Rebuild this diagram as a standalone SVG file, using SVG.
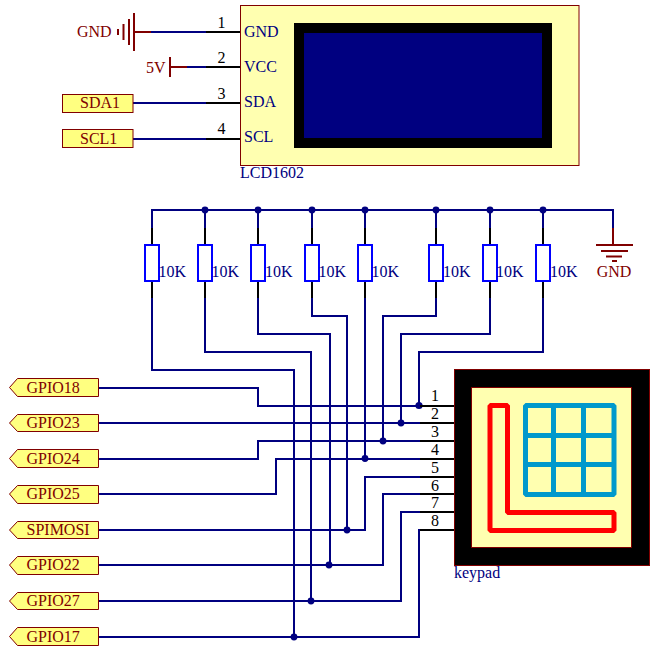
<svg xmlns="http://www.w3.org/2000/svg" width="658" height="652" viewBox="0 0 658 652">
<style>
text{font-family:"Liberation Serif","Times New Roman",serif;font-size:16px}
.w{fill:none;stroke:#000080;stroke-width:2}
.p{fill:none;stroke:#000;stroke-width:2}
.r{fill:none;stroke:#800000;stroke-width:2}
.res{fill:#fff;stroke:#0000ff;stroke-width:2}
.lb{fill:#ffff80;stroke:#800000;stroke-width:1}
.t{fill:#800000}
.n{fill:#000080}
.k{fill:#000}
.c{text-anchor:middle}
.j{fill:#000080}
</style>
<rect width="658" height="652" fill="#fff"/>
<g id="connectors">
<path class="w" d="M151 32H206M187 67H206M133 103H206M133 139H206"/>
<path class="w" d="M152 228V210H613V228M205 210V228M258 210V228M312 210V228M365 210V228M436 210V228M490 210V228M543 210V228"/>
<path class="w" d="M99 388H258V406H420M99 423H420M99 459H258V441H420M99 494H276V459H420M99 530H365V477H420M99 565H383V494H420M99 601H401V512H420M99 637H419V530H420"/>
<path class="w" d="M152 298V370H294V637M205 298V352H311V601M258 298V334H330V565M312 298V316H347V530M365 298V459M436 298V316H383V441M490 298V334H401V423M543 298V352H419V406"/>
<g class="j"><circle cx="205" cy="210" r="3.400"/><circle cx="258" cy="210" r="3.400"/><circle cx="312" cy="210" r="3.400"/><circle cx="365" cy="210" r="3.400"/><circle cx="436" cy="210" r="3.400"/><circle cx="490" cy="210" r="3.400"/><circle cx="543" cy="210" r="3.400"/><circle cx="419" cy="405.500" r="3.600"/><circle cx="401" cy="423" r="3.400"/><circle cx="383" cy="441" r="3.400"/><circle cx="365" cy="458.500" r="3.400"/><circle cx="347" cy="530" r="3.400"/><circle cx="329" cy="565" r="3.400"/><circle cx="311" cy="601" r="3.400"/><circle cx="294" cy="637" r="3.400"/></g>
</g>
<g id="lcd1602">
<rect x="240.500" y="5.500" width="338.500" height="160" fill="#ffffb0" stroke="#800000"/>
<rect x="294" y="23" width="258" height="125" fill="#000"/>
<rect x="304" y="33" width="238" height="105" fill="#000080"/>
<path class="p" d="M206 32H240M206 67H240M206 103H240M206 139H240"/>
<g class="k"><text class="c" x="221.500" y="28">1</text><text class="c" x="221.500" y="63">2</text><text class="c" x="221.500" y="99">3</text><text class="c" x="221.500" y="134">4</text></g>
<g class="n"><text x="244" y="37">GND</text><text x="244" y="72">VCC</text><text x="244" y="107">SDA</text><text x="244" y="142">SCL</text><text x="240" y="178">LCD1602</text></g>
</g>
<g id="gnd-top">
<path class="r" d="M135 32H151M134 13V51M129 19V45M123.500 24V40M118 29V35"/>
<text class="t" x="77" y="37">GND</text>
</g>
<g id="vcc-5v">
<path class="r" d="M170 57V77M170 67H187"/>
<text class="t" x="146" y="73">5V</text>
</g>
<g id="sda1"><rect class="lb" x="62.500" y="94.500" width="70.500" height="18"/><text class="t" x="80" y="108">SDA1</text></g>
<g id="scl1"><rect class="lb" x="62.500" y="129.500" width="70.500" height="18"/><text class="t" x="80" y="144">SCL1</text></g>
<g id="r1"><path class="p" d="M152 228V245M152 281V298"/><rect class="res" x="145" y="245" width="14" height="36"/><text class="n" x="158.500" y="277">10K</text></g>
<g id="r2"><path class="p" d="M205 228V245M205 281V298"/><rect class="res" x="198" y="245" width="14" height="36"/><text class="n" x="211.500" y="277">10K</text></g>
<g id="r3"><path class="p" d="M258 228V245M258 281V298"/><rect class="res" x="251" y="245" width="14" height="36"/><text class="n" x="265" y="277">10K</text></g>
<g id="r4"><path class="p" d="M312 228V245M312 281V298"/><rect class="res" x="305" y="245" width="14" height="36"/><text class="n" x="318.500" y="277">10K</text></g>
<g id="r5"><path class="p" d="M365 228V245M365 281V298"/><rect class="res" x="358" y="245" width="14" height="36"/><text class="n" x="371.500" y="277">10K</text></g>
<g id="r6"><path class="p" d="M436 228V245M436 281V298"/><rect class="res" x="429" y="245" width="14" height="36"/><text class="n" x="443" y="277">10K</text></g>
<g id="r7"><path class="p" d="M490 228V245M490 281V298"/><rect class="res" x="483" y="245" width="14" height="36"/><text class="n" x="496" y="277">10K</text></g>
<g id="r8"><path class="p" d="M543 228V245M543 281V298"/><rect class="res" x="536" y="245" width="14" height="36"/><text class="n" x="550" y="277">10K</text></g>
<g id="gnd-right">
<path class="r" d="M613 228V245M596 245H633M601 251H628M606 256.500H622M612 261H617"/>
<text class="t c" x="614" y="277">GND</text>
</g>
<g id="gpio18"><path class="lb" d="M9.500 387.500L17.500 378.500H98.500V396.500H17.500Z"/><text class="t" x="26.500" y="393">GPIO18</text></g>
<g id="gpio23"><path class="lb" d="M9.500 423L17.500 414.500H98.500V431.500H17.500Z"/><text class="t" x="26.500" y="428">GPIO23</text></g>
<g id="gpio24"><path class="lb" d="M9.500 458.500L17.500 449.500H98.500V467.500H17.500Z"/><text class="t" x="26.500" y="464">GPIO24</text></g>
<g id="gpio25"><path class="lb" d="M9.500 494L17.500 485.500H98.500V503.500H17.500Z"/><text class="t" x="26.500" y="499">GPIO25</text></g>
<g id="spimosi"><path class="lb" d="M9.500 530L17.500 521.500H98.500V538.500H17.500Z"/><text class="t" x="26.500" y="535">SPIMOSI</text></g>
<g id="gpio22"><path class="lb" d="M9.500 565L17.500 556.500H98.500V574.500H17.500Z"/><text class="t" x="26.500" y="570">GPIO22</text></g>
<g id="gpio27"><path class="lb" d="M9.500 601L17.500 592.500H98.500V609.500H17.500Z"/><text class="t" x="26.500" y="606">GPIO27</text></g>
<g id="gpio17"><path class="lb" d="M9.500 636.500L17.500 627.500H98.500V645.500H17.500Z"/><text class="t" x="26.500" y="642">GPIO17</text></g>
<g id="keypad">
<path class="p" d="M420 406H454M420 423H454M420 441H454M420 459H454M420 477H454M420 494H454M420 512H454M420 530H454"/>
<g class="k"><text class="c" x="435" y="401">1</text><text class="c" x="435" y="419">2</text><text class="c" x="435" y="437">3</text><text class="c" x="435" y="455">4</text><text class="c" x="435" y="473">5</text><text class="c" x="435" y="491">6</text><text class="c" x="435" y="508">7</text><text class="c" x="435" y="526">8</text></g>
<rect x="454.500" y="369.500" width="195" height="196" fill="#000" stroke="#800000"/>
<rect x="471.500" y="387.500" width="160" height="160" fill="#ffffb0" stroke="#800000"/>
<path fill="none" stroke="#ff0000" stroke-width="5" stroke-linejoin="bevel" d="M490 405.500H507.500V512.500H614V530.500H490Z"/>
<path fill="none" stroke="#0099cc" stroke-width="5" stroke-linejoin="bevel" d="M525.500 405.500H614V494.500H525.500ZM553.500 405.500V494.500M583.500 405.500V494.500M525.500 435.500H614M525.500 464.500H614"/>
<text class="n" x="454" y="578">keypad</text>
</g>
</svg>
